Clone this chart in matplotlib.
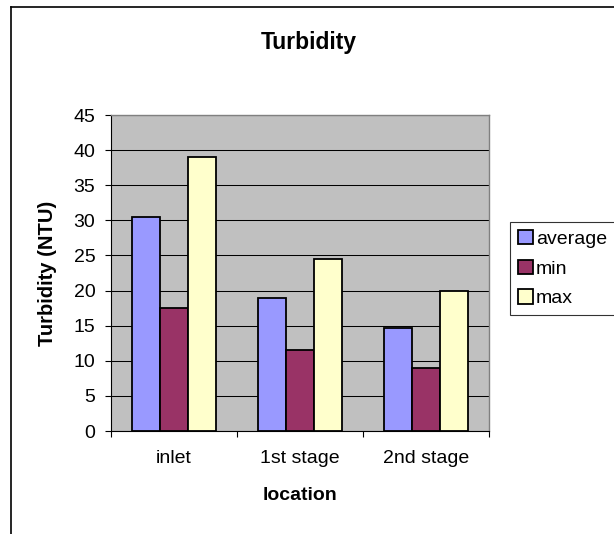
import matplotlib
matplotlib.use('Agg')
import matplotlib.pyplot as plt
import numpy as np
from matplotlib.lines import Line2D

plt.rcParams['font.family'] = ['Liberation Sans', 'DejaVu Sans']

locations = ['inlet', '1st stage', '2nd stage']
series_names = ['average', 'min', 'max']
average = [30.5, 19.0, 14.7]
minimum = [17.5, 11.5, 9.0]
maximum = [39.0, 24.5, 20.0]
y_ticks = [0, 5, 10, 15, 20, 25, 30, 35, 40, 45]

COLORS = ['#9999FF', '#993366', '#FFFFCC']
FS = 14

W, H = 614, 534
fig = plt.figure(figsize=(W / 100, H / 100), dpi=100)
ax = fig.add_axes([111 / W, 1 - 431 / H, 378 / W, 316 / H])

ax.set_facecolor('#C0C0C0')
x = np.arange(len(locations))
bw = 1 / 4.5
for i, (name, vals) in enumerate(zip(series_names, [average, minimum, maximum])):
    ax.bar(x + (i - 1) * bw, vals, width=bw, color=COLORS[i], edgecolor='black',
           linewidth=1.3, label=name, zorder=3)

ax.set_xlim(-0.5, len(locations) - 0.5)
ax.set_ylim(0, 45)
ax.set_yticks(y_ticks)
ax.yaxis.grid(True, color='black', linewidth=0.75, zorder=1)
ax.set_axisbelow(True)

ax.set_xticks(np.arange(len(locations) + 1) - 0.5)
ax.set_xticklabels([])
ax.set_xticks(x, minor=True)
ax.set_xticklabels(locations, minor=True, fontsize=FS)
ax.tick_params(axis='x', which='minor', length=0, pad=14)
ax.tick_params(axis='x', which='major', length=4.3, direction='out', width=0.8)
ax.tick_params(axis='y', length=4.3, direction='out', width=0.8, labelsize=FS, pad=7)

for side in ['top', 'right']:
    ax.spines[side].set_color('#808080')
    ax.spines[side].set_linewidth(1.0)
for side in ['left', 'bottom']:
    ax.spines[side].set_color('black')
    ax.spines[side].set_linewidth(0.8)

fig.text(47.5 / W, 1 - 273 / H, 'Turbidity (NTU)', fontsize=14.5, fontweight='bold',
         rotation=90, ha='center', va='center')
fig.text(300 / W, 1 - 495 / H, 'location', fontsize=FS, fontweight='bold',
         ha='center', va='center')
fig.text(309 / W, 1 - 42 / H, 'Turbidity', fontsize=16.5, fontweight='bold',
         ha='center', va='center')

leg = ax.legend(loc='upper left', bbox_to_anchor=(510 / W, 1 - 222 / H),
                bbox_transform=fig.transFigure, fontsize=FS, frameon=True,
                fancybox=False, handlelength=0.78, handleheight=0.78,
                handletextpad=0.15, borderpad=0.4, labelspacing=0.6,
                borderaxespad=0)
leg.get_frame().set_edgecolor('black')
leg.get_frame().set_linewidth(0.8)

# chart area border (cropped at right and bottom)
fig.add_artist(Line2D([11 / W, 11 / W], [0, 1 - 7 / H], color='black',
                      linewidth=1.2, transform=fig.transFigure))
fig.add_artist(Line2D([11 / W, 1], [1 - 7 / H, 1 - 7 / H], color='black',
                      linewidth=1.2, transform=fig.transFigure))

fig.savefig('out.png', dpi=100)
